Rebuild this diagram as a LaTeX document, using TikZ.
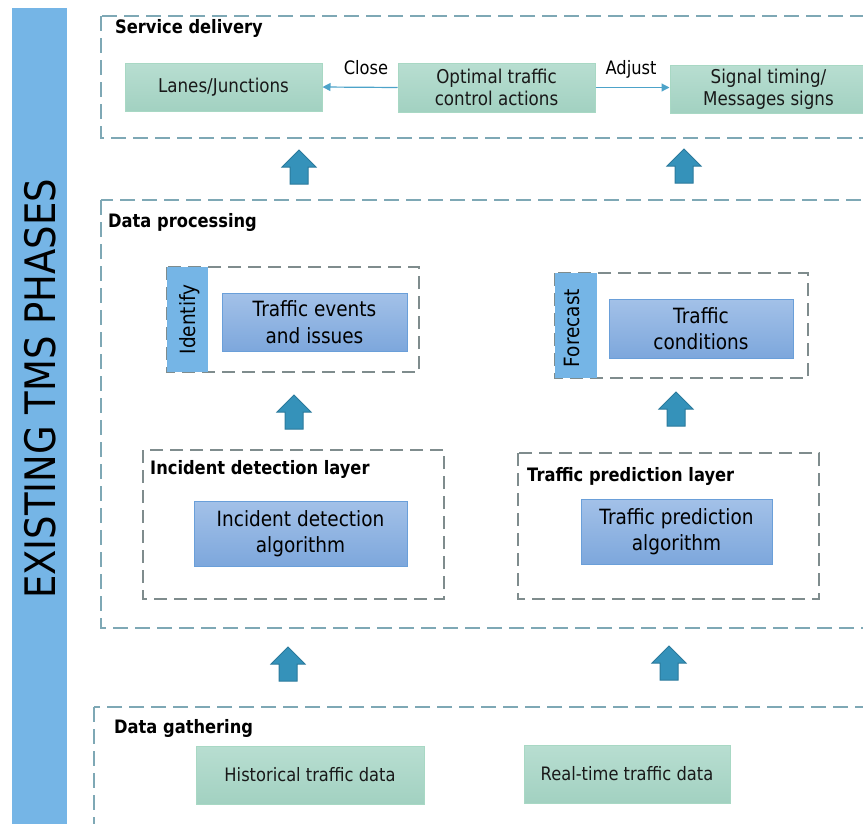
\documentclass[tikz,border=0pt]{standalone}
\usepackage{fontspec}
\setmainfont{DejaVu Sans}[FakeStretch=0.88]
\usetikzlibrary{arrows.meta}

\definecolor{phasebar}{HTML}{75B5E6}
\definecolor{outerdash}{HTML}{7EA8B5}
\definecolor{innerdash}{HTML}{7F8C8D}
\definecolor{greentop}{HTML}{B8DED1}
\definecolor{greenbot}{HTML}{A2D1C1}
\definecolor{greenedge}{HTML}{A8D8C4}
\definecolor{bluetop}{HTML}{A3C1E8}
\definecolor{bluebot}{HTML}{7DA7DC}
\definecolor{blueedge}{HTML}{6A9FD9}
\definecolor{liftfill}{HTML}{3592BA}
\definecolor{liftedge}{HTML}{2B7A9C}
\definecolor{flowline}{HTML}{4DA3C9}

\tikzset{
  greenbox/.style={draw=greenedge, line width=1pt, top color=greentop, bottom color=greenbot,
    align=center, inner sep=0pt, text=black!90, font=\fontsize{19}{22}\selectfont},
  bluebox/.style={draw=blueedge, line width=1pt, top color=bluetop, bottom color=bluebot,
    align=center, inner sep=0pt, text=black, font=\fontsize{21}{26.5}\selectfont},
  outerbox/.style={draw=outerdash, line width=2pt, dash pattern=on 15pt off 7pt},
  innerbox/.style={draw=innerdash, line width=2.2pt, dash pattern=on 13pt off 7pt},
  title/.style={font=\bfseries\fontsize{18.5}{22}\selectfont, anchor=base west, inner sep=0pt},
  tag/.style={fill=phasebar, draw=none},
  tagtext/.style={rotate=90, inner sep=0pt, font=\fontsize{21}{24}\selectfont},
  flowlabel/.style={anchor=base, inner sep=0pt, font=\fontsize{18.5}{22}\selectfont},
  flow/.style={draw=flowline, line width=1.2pt, -{Triangle[length=8pt,width=8pt]}},
  lift/.style={fill=liftfill, draw=liftedge, line width=1pt, line join=miter},
  liftarrow/.pic={\path[lift] (0,0) -- (17,17) -- (9,17) -- (9,34) -- (-9,34) -- (-9,17) -- (-17,17) -- cycle;}
}

\begin{document}
\begin{tikzpicture}[x=1pt, y=-1pt]
\useasboundingbox (0,0) rectangle (863,823);
\clip (0,0) rectangle (863,823);

% phase banner on the left
\fill[tag] (12,8) rectangle (67,830);
\node[rotate=90, inner sep=0pt, font=\fontsize{42}{42}\selectfont] (phases) at (40,389) {EXISTING TMS PHASES};

% ---------------- Service delivery ----------------
\draw[outerbox] (101,16) rectangle (900,138);
\node[title] (sdtitle) at (115,33) {Service delivery};
\node[greenbox, minimum width=197pt, minimum height=48pt] (lanes) at (223.5,87) {Lanes/Junctions};
\node[greenbox, minimum width=197pt, minimum height=49pt] (optimal) at (496.5,87.5) {Optimal traffic\\control actions};
\node[greenbox, minimum width=197pt, minimum height=48pt] (signal) at (768.5,89) {Signal timing/\\Messages signs};
\draw[flow] (optimal.west) -- (lanes.east);
\draw[flow] (optimal.east) -- (optimal.east -| signal.west);
\node[flowlabel] (close) at (366,74) {Close};
\node[flowlabel] (adjust) at (631,74) {Adjust};

\pic (up1) at (299,150) {liftarrow};
\pic (up2) at (684,149) {liftarrow};

% ---------------- Data processing ----------------
\draw[outerbox] (101,200) rectangle (900,628);
\node[title] (dptitle) at (108,227) {Data processing};

% identify group
\draw[innerbox] (167,267) rectangle (419,372);
\fill[tag] (167,267) rectangle (208,372);
\node[tagtext] (identify) at (190,319.5) {Identify};
\node[bluebox, minimum width=185pt, minimum height=58pt] (events) at (314.5,322) {Traffic events\\and issues};

% forecast group
\draw[innerbox] (555,273) rectangle (808,378);
\fill[tag] (555,273) rectangle (597,378);
\node[tagtext] (forecast) at (572,328) {Forecast};
\node[bluebox, minimum width=184pt, minimum height=59pt] (conditions) at (701,328.5) {Traffic\\conditions};

\pic (up3) at (294,395) {liftarrow};
\pic (up4) at (676,392) {liftarrow};

% incident detection layer
\draw[innerbox] (143,450) rectangle (444,599);
\node[title] (idtitle) at (150,474) {Incident detection layer};
\node[bluebox, minimum width=213pt, minimum height=65pt] (incident) at (300.5,533.5) {Incident detection\\algorithm};

% traffic prediction layer
\draw[innerbox] (518,453) rectangle (819,599);
\node[title] (tptitle) at (527,481) {Traffic prediction layer};
\node[bluebox, minimum width=191pt, minimum height=65pt] (prediction) at (676.5,531.5) {Traffic prediction\\algorithm};

\pic (up5) at (288,647) {liftarrow};
\pic (up6) at (669,646) {liftarrow};

% ---------------- Data gathering ----------------
\draw[outerbox] (94,707) rectangle (900,850);
\node[title] (dgtitle) at (114,733) {Data gathering};
\node[greenbox, minimum width=228pt, minimum height=58pt, font=\fontsize{18.5}{22}\selectfont] (historical) at (310,775) {Historical traffic data};
\node[greenbox, minimum width=206pt, minimum height=58pt, font=\fontsize{18.5}{22}\selectfont] (realtime) at (627,774) {Real-time traffic data};
\end{tikzpicture}
\end{document}
